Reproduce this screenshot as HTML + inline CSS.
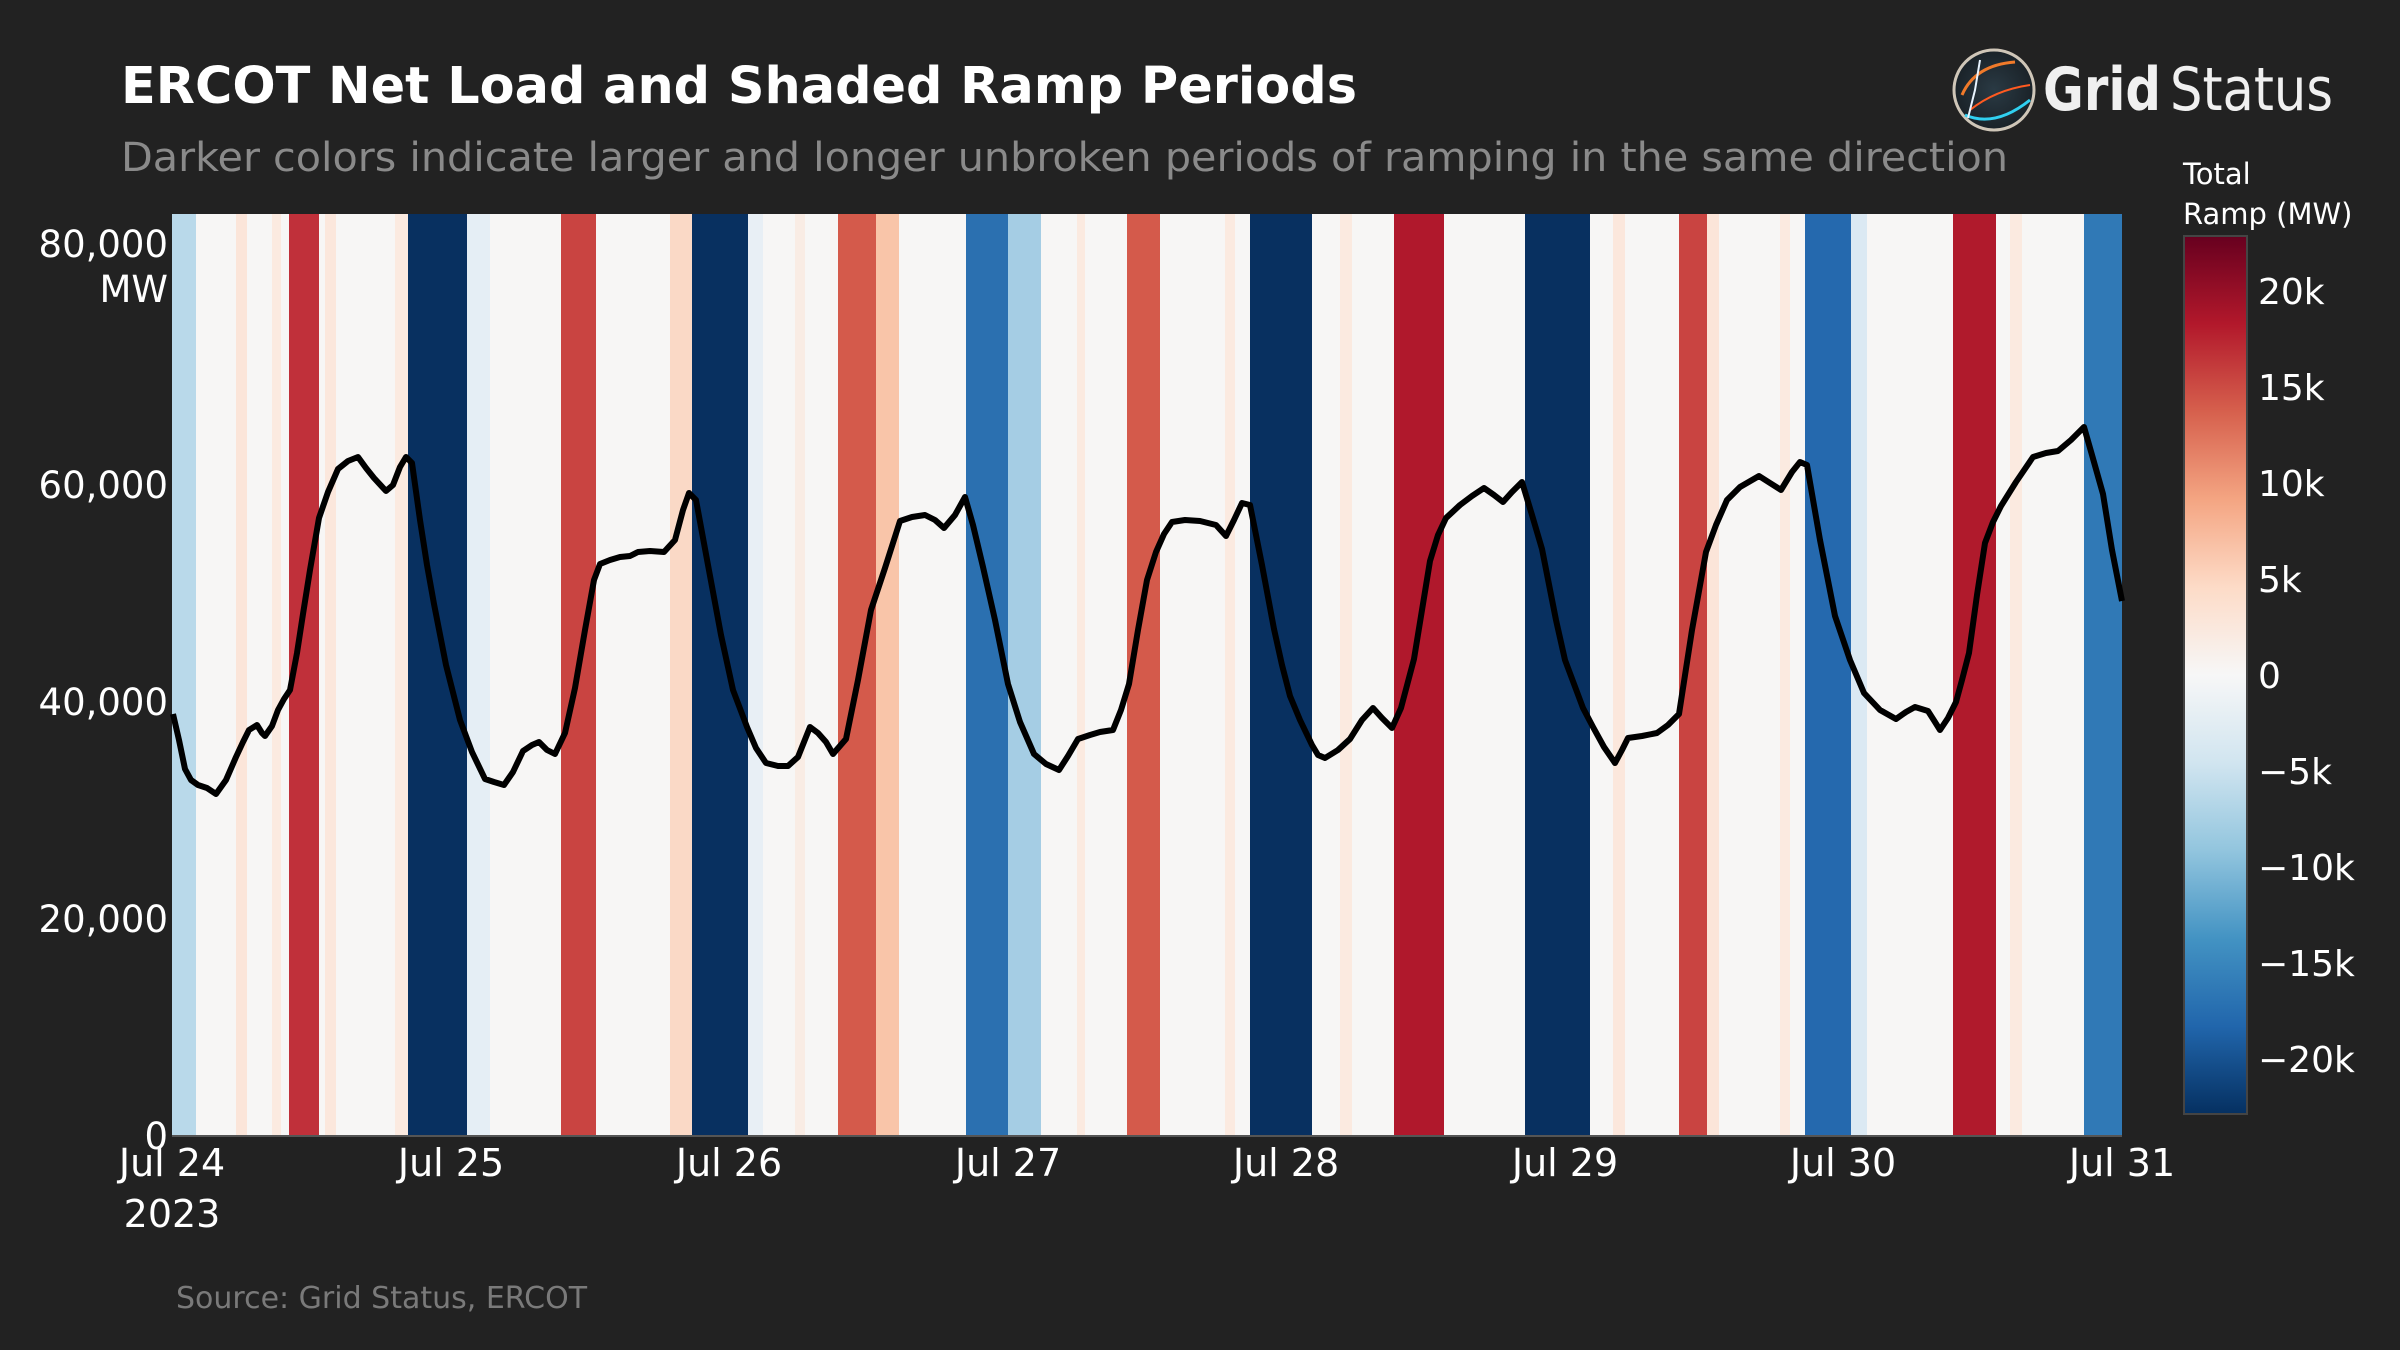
<!DOCTYPE html>
<html><head><meta charset="utf-8"><style>
html,body{margin:0;padding:0;background:#222222;}
svg{display:block;}
text{font-family:"DejaVu Sans","Liberation Sans",sans-serif;}
</style></head><body>
<svg width="2400" height="1350" viewBox="0 0 2400 1350" xmlns="http://www.w3.org/2000/svg">
<defs>
<linearGradient id="cb" x1="0" y1="0" x2="0" y2="1">
<stop offset="0" stop-color="#67001f"/>
<stop offset="0.1" stop-color="#b2182b"/>
<stop offset="0.2" stop-color="#d6604d"/>
<stop offset="0.3" stop-color="#f4a582"/>
<stop offset="0.4" stop-color="#fddbc7"/>
<stop offset="0.5" stop-color="#f7f7f7"/>
<stop offset="0.6" stop-color="#d1e5f0"/>
<stop offset="0.7" stop-color="#92c5de"/>
<stop offset="0.8" stop-color="#4393c3"/>
<stop offset="0.9" stop-color="#2166ac"/>
<stop offset="1" stop-color="#053061"/>
</linearGradient>
<radialGradient id="lg" cx="0.5" cy="0.5" r="0.5">
<stop offset="0" stop-color="#2a3a44"/>
<stop offset="1" stop-color="#1a2228"/>
</radialGradient>
</defs>
<rect width="2400" height="1350" fill="#222222"/>
<text x="121" y="103" font-size="51" font-weight="bold" fill="#ffffff" textLength="1236" lengthAdjust="spacingAndGlyphs">ERCOT Net Load and Shaded Ramp Periods</text>
<text x="121" y="171" font-size="40" fill="#8a8a8a" textLength="1887" lengthAdjust="spacingAndGlyphs">Darker colors indicate larger and longer unbroken periods of ramping in the same direction</text>

<!-- logo -->
<circle cx="1994" cy="90" r="40" fill="url(#lg)" stroke="#cfc6b8" stroke-width="3"/>
<path d="M1962 95 Q1975 65 2015 62" stroke="#f07a2a" stroke-width="3" fill="none"/>
<path d="M1970 110 Q1995 90 2030 85" stroke="#ff5a20" stroke-width="2" fill="none"/>
<path d="M1965 115 Q1995 128 2030 100" stroke="#30d0f0" stroke-width="3" fill="none"/>
<path d="M1980 60 L1975 90 L1968 118" stroke="#e8f4ff" stroke-width="2" fill="none"/>
<text x="2043" y="110" font-size="60" font-weight="bold" fill="#f0f0f0" font-family="Liberation Sans" textLength="118" lengthAdjust="spacingAndGlyphs">Grid</text>
<text x="2170" y="110" font-size="60" fill="#f0f0f0" font-family="Liberation Sans" textLength="163" lengthAdjust="spacingAndGlyphs">Status</text>

<!-- plot background -->
<rect x="172" y="214" width="1950" height="922" fill="#f7f6f5"/>
<g>
<rect x="172" y="214" width="24" height="922" fill="#b9d9ea"/>
<rect x="236" y="214" width="11" height="922" fill="#fbe5d9"/>
<rect x="272" y="214" width="9" height="922" fill="#fbeae0"/>
<rect x="289" y="214" width="30" height="922" fill="#c0303a"/>
<rect x="325" y="214" width="11" height="922" fill="#fbe7dc"/>
<rect x="395" y="214" width="13" height="922" fill="#fbeae0"/>
<rect x="408" y="214" width="59" height="922" fill="#083060"/>
<rect x="467" y="214" width="23" height="922" fill="#e5eef5"/>
<rect x="561" y="214" width="35" height="922" fill="#c94441"/>
<rect x="670" y="214" width="22" height="922" fill="#fad9c6"/>
<rect x="692" y="214" width="56" height="922" fill="#083060"/>
<rect x="748" y="214" width="15" height="922" fill="#e8eff5"/>
<rect x="795" y="214" width="10" height="922" fill="#f9ece4"/>
<rect x="838" y="214" width="38" height="922" fill="#d45a4b"/>
<rect x="876" y="214" width="23" height="922" fill="#f9c5a9"/>
<rect x="966" y="214" width="42" height="922" fill="#2b70b0"/>
<rect x="1008" y="214" width="33" height="922" fill="#a5cde4"/>
<rect x="1077" y="214" width="8" height="922" fill="#fbeae0"/>
<rect x="1127" y="214" width="33" height="922" fill="#d45a4b"/>
<rect x="1225" y="214" width="10" height="922" fill="#fbeae0"/>
<rect x="1250" y="214" width="62" height="922" fill="#083060"/>
<rect x="1340" y="214" width="12" height="922" fill="#fbeae0"/>
<rect x="1394" y="214" width="50" height="922" fill="#b0182c"/>
<rect x="1525" y="214" width="65" height="922" fill="#083060"/>
<rect x="1613" y="214" width="12" height="922" fill="#fbe7dc"/>
<rect x="1679" y="214" width="28" height="922" fill="#c94441"/>
<rect x="1707" y="214" width="12" height="922" fill="#fbe5d9"/>
<rect x="1780" y="214" width="10" height="922" fill="#fbeae0"/>
<rect x="1805" y="214" width="46" height="922" fill="#2569ae"/>
<rect x="1851" y="214" width="16" height="922" fill="#dbe9f3"/>
<rect x="1953" y="214" width="43" height="922" fill="#b01a2c"/>
<rect x="2010" y="214" width="12" height="922" fill="#fbeae0"/>
<rect x="2084" y="214" width="38" height="922" fill="#3079b6"/>
</g>
<line x1="172" y1="1136" x2="2122" y2="1136" stroke="#555" stroke-width="2"/>

<polyline fill="none" stroke="#000" stroke-width="6" stroke-linejoin="round" points="173,714 179,740 185,769 191,780 198,785 207,788 216,794 226,780 236,757 243,742 249,730 257,725 262,733 265,736 272,726 278,710 284,699 290,690 297,653 303,614 310,570 319,518 328,492 338,469 348,461 358,457 366,468 374,478 386,491 393,485 400,467 406,457 412,463 420,520 427,565 434,604 446,665 460,720 472,752 485,779 494,782 504,785 513,772 523,751 532,745 539,742 547,750 555,754 565,733 575,688 585,630 594,580 600,564 610,560 620,557 630,556 638,552 650,551 664,552 675,540 683,510 689,493 696,500 708,565 721,635 733,690 747,727 756,748 766,763 778,766 788,766 798,757 810,727 818,733 826,742 833,754 846,739 858,680 871,610 885,568 900,521 912,517 925,515 935,520 944,528 955,515 965,497 973,525 983,567 995,620 1008,684 1020,722 1034,754 1046,764 1059,770 1068,756 1078,739 1090,735 1100,732 1113,730 1121,710 1129,684 1138,630 1147,580 1156,552 1164,534 1172,522 1185,520 1200,521 1216,525 1226,536 1234,520 1242,503 1250,505 1262,565 1274,629 1282,665 1290,696 1300,720 1312,745 1318,755 1325,758 1338,750 1350,739 1362,720 1373,708 1382,718 1392,728 1401,708 1414,659 1422,610 1430,561 1438,535 1446,518 1460,505 1472,496 1484,488 1494,495 1503,502 1512,492 1522,482 1532,515 1542,549 1556,620 1565,660 1574,684 1583,708 1593,727 1604,747 1615,763 1622,750 1628,738 1642,736 1657,733 1668,725 1679,714 1692,630 1706,552 1716,525 1727,500 1740,487 1759,476 1770,483 1781,490 1792,472 1800,462 1807,465 1820,540 1835,616 1850,660 1864,693 1880,710 1896,719 1906,712 1915,707 1928,711 1935,722 1940,730 1948,718 1956,702 1962,680 1969,653 1977,595 1985,543 1993,522 2001,506 2016,482 2033,457 2046,453 2058,451 2071,440 2084,427 2092,455 2103,494 2112,550 2122,601"/>

<!-- y ticks -->
<g font-size="37" fill="#ffffff" text-anchor="end">
<text x="168" y="1149">0</text>
<text x="168" y="932">20,000</text>
<text x="168" y="715">40,000</text>
<text x="168" y="498">60,000</text>
<text x="168" y="257">80,000</text>
<text x="168" y="302">MW</text>
</g>
<!-- x ticks -->
<g font-size="38" fill="#ffffff" text-anchor="middle">
<text x="172" y="1176">Jul 24</text>
<text x="172" y="1227">2023</text>
<text x="451" y="1176">Jul 25</text>
<text x="729" y="1176">Jul 26</text>
<text x="1008" y="1176">Jul 27</text>
<text x="1286" y="1176">Jul 28</text>
<text x="1565" y="1176">Jul 29</text>
<text x="1843" y="1176">Jul 30</text>
<text x="2122" y="1176">Jul 31</text>
</g>

<!-- colorbar -->
<text x="2183" y="184" font-size="29" fill="#ffffff">Total</text>
<text x="2183" y="224" font-size="29" fill="#ffffff">Ramp (MW)</text>
<rect x="2184" y="236" width="63" height="878" fill="url(#cb)" stroke="#444" stroke-width="2"/>
<g font-size="36" fill="#ffffff">
<text x="2258" y="304">20k</text>
<text x="2258" y="400">15k</text>
<text x="2258" y="496">10k</text>
<text x="2258" y="592">5k</text>
<text x="2258" y="688">0</text>
<text x="2258" y="784">−5k</text>
<text x="2258" y="880">−10k</text>
<text x="2258" y="976">−15k</text>
<text x="2258" y="1072">−20k</text>
</g>

<text x="176" y="1308" font-size="30" fill="#7a7a7a">Source: Grid Status, ERCOT</text>
</svg>
</body></html>
